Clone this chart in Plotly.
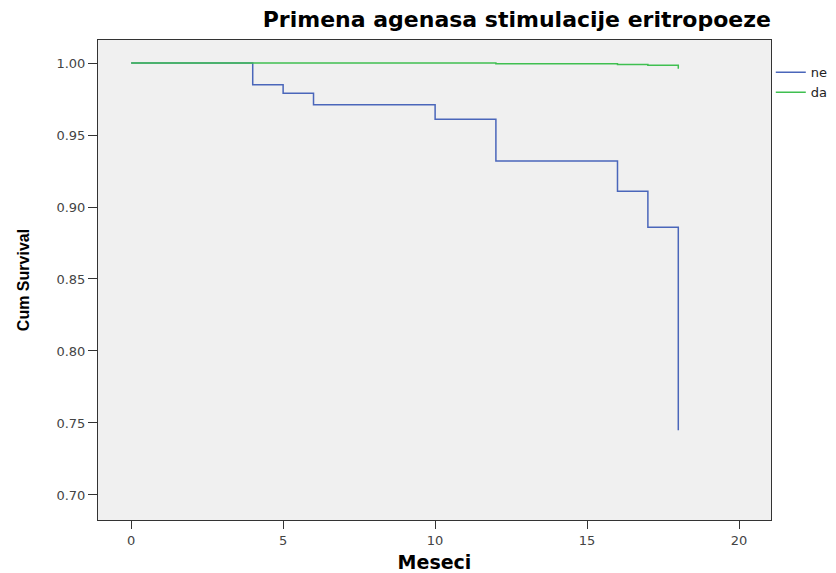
import plotly.graph_objects as go

# Data
ne_time = [0, 4, 5, 6, 10, 12, 16, 17, 18]
ne_surv = [1.0, 0.985, 0.979, 0.971, 0.961, 0.932, 0.911, 0.886, 0.745]
ne_end = 18

da_time = [0, 12, 16, 17, 18]
da_surv = [1.0, 0.9995, 0.999, 0.9985, 0.996]
da_end = 18

x_ticks = [0, 5, 10, 15, 20]
y_ticks = [0.70, 0.75, 0.80, 0.85, 0.90, 0.95, 1.00]

BLUE = "#4A66BA"
GREEN = "#3FBF50"

fig = go.Figure()
fig.add_trace(go.Scatter(x=ne_time + [ne_end], y=ne_surv + [ne_surv[-1]], mode="lines",
                         line=dict(shape="hv", color=BLUE, width=1.5), name="ne"))
fig.add_trace(go.Scatter(x=da_time + [da_end], y=da_surv + [da_surv[-1]], mode="lines",
                         line=dict(shape="hv", color=GREEN, width=1.5), name="da"))

fig.update_layout(
    width=836, height=573,
    margin=dict(l=98, r=65, t=40, b=53, autoexpand=False),
    paper_bgcolor="white", plot_bgcolor="#F0F0F0",
    font=dict(family="DejaVu Sans, sans-serif", size=13, color="#444444"),
    title=dict(text="<b>Primena agenasa stimulacije eritropoeze</b>",
               x=1, xref="paper", xanchor="right", y=0.966, yref="container", yanchor="middle",
               font=dict(size=22, color="black", family="DejaVu Sans, sans-serif")),
    showlegend=True,
    legend=dict(x=0.922, xref="container", y=0.9, yref="container",
                xanchor="left", yanchor="top", bgcolor="rgba(0,0,0,0)",
                font=dict(size=13, color="#222222"), tracegroupgap=0, itemwidth=30),
    xaxis=dict(range=[-1.09, 21.05], tickvals=x_ticks, ticks="outside", ticklen=8,
               tickcolor="#333", showgrid=False, zeroline=False, showline=True,
               linecolor="#333", linewidth=1, mirror=True, automargin=False,
               title=dict(text="<b>Meseci</b>", font=dict(size=19, color="black"), standoff=20)),
    yaxis=dict(range=[0.6826, 1.016], tickvals=y_ticks, tickformat=".2f", ticks="outside",
               ticklen=9, tickcolor="#333", showgrid=False, zeroline=False, showline=True,
               linecolor="#333", linewidth=1, mirror=True, automargin=False,
               title=dict(text="<b>Cum Survival</b>",
                          font=dict(size=16, color="black", family="Liberation Sans, Arial, sans-serif"),
                          standoff=22)),
)

fig.write_html("out.html")
